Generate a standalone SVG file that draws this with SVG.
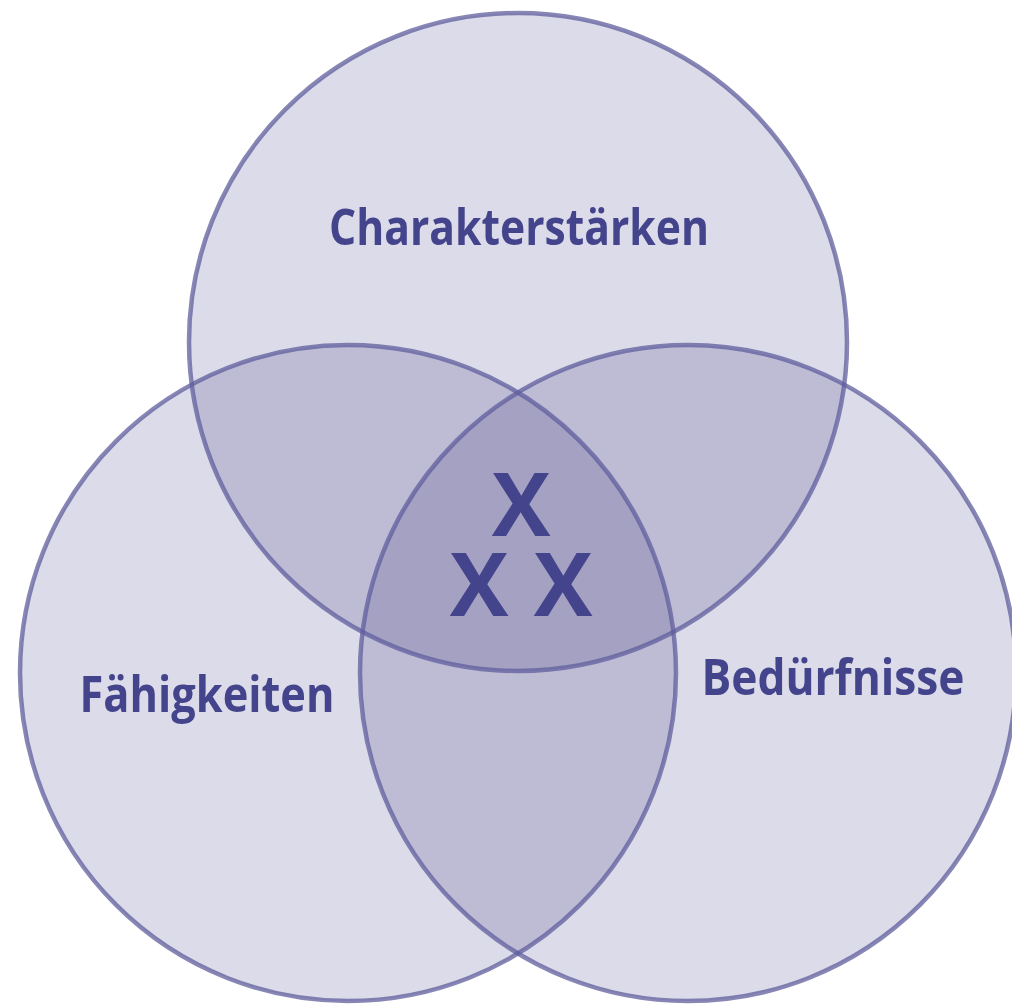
<svg xmlns="http://www.w3.org/2000/svg" width="1012" height="1005" viewBox="0 0 1012 1005">
<style>
.fill{fill:#dcdbe9;mix-blend-mode:multiply}
.ring{fill:none;stroke:#5f5d9c;stroke-opacity:0.75;stroke-width:4.5}
.lbl{font-family:"Open Sans","Noto Sans",sans-serif;font-weight:700;fill:#44448c;text-anchor:middle}
.big{font-size:50px}
.x{font-size:88px}
</style>
<rect width="1012" height="1005" fill="#ffffff"/>
<g id="fills" style="isolation:isolate">
<circle class="fill" cx="518" cy="342" r="329"/>
<circle class="fill" cx="348" cy="673" r="328"/>
<circle class="fill" cx="688" cy="673" r="328"/>
</g>
<g id="connectors">
<circle class="ring" cx="518" cy="342" r="329"/>
<circle class="ring" cx="348" cy="673" r="328"/>
<circle class="ring" cx="688" cy="673" r="328"/>
</g>
<g id="node-charakter"><text class="lbl big" x="519" y="245" textLength="380" lengthAdjust="spacingAndGlyphs">Charakterstärken</text></g>
<g id="node-faehigkeiten"><text class="lbl big" x="207" y="712" textLength="255" lengthAdjust="spacingAndGlyphs">Fähigkeiten</text></g>
<g id="node-beduerfnisse"><text class="lbl big" x="833" y="695" textLength="263" lengthAdjust="spacingAndGlyphs">Bedürfnisse</text></g>
<g id="node-center">
<text class="lbl x" x="521" y="536">X</text>
<text class="lbl x" x="479" y="616">X</text>
<text class="lbl x" x="563" y="616">X</text>
</g>
</svg>
